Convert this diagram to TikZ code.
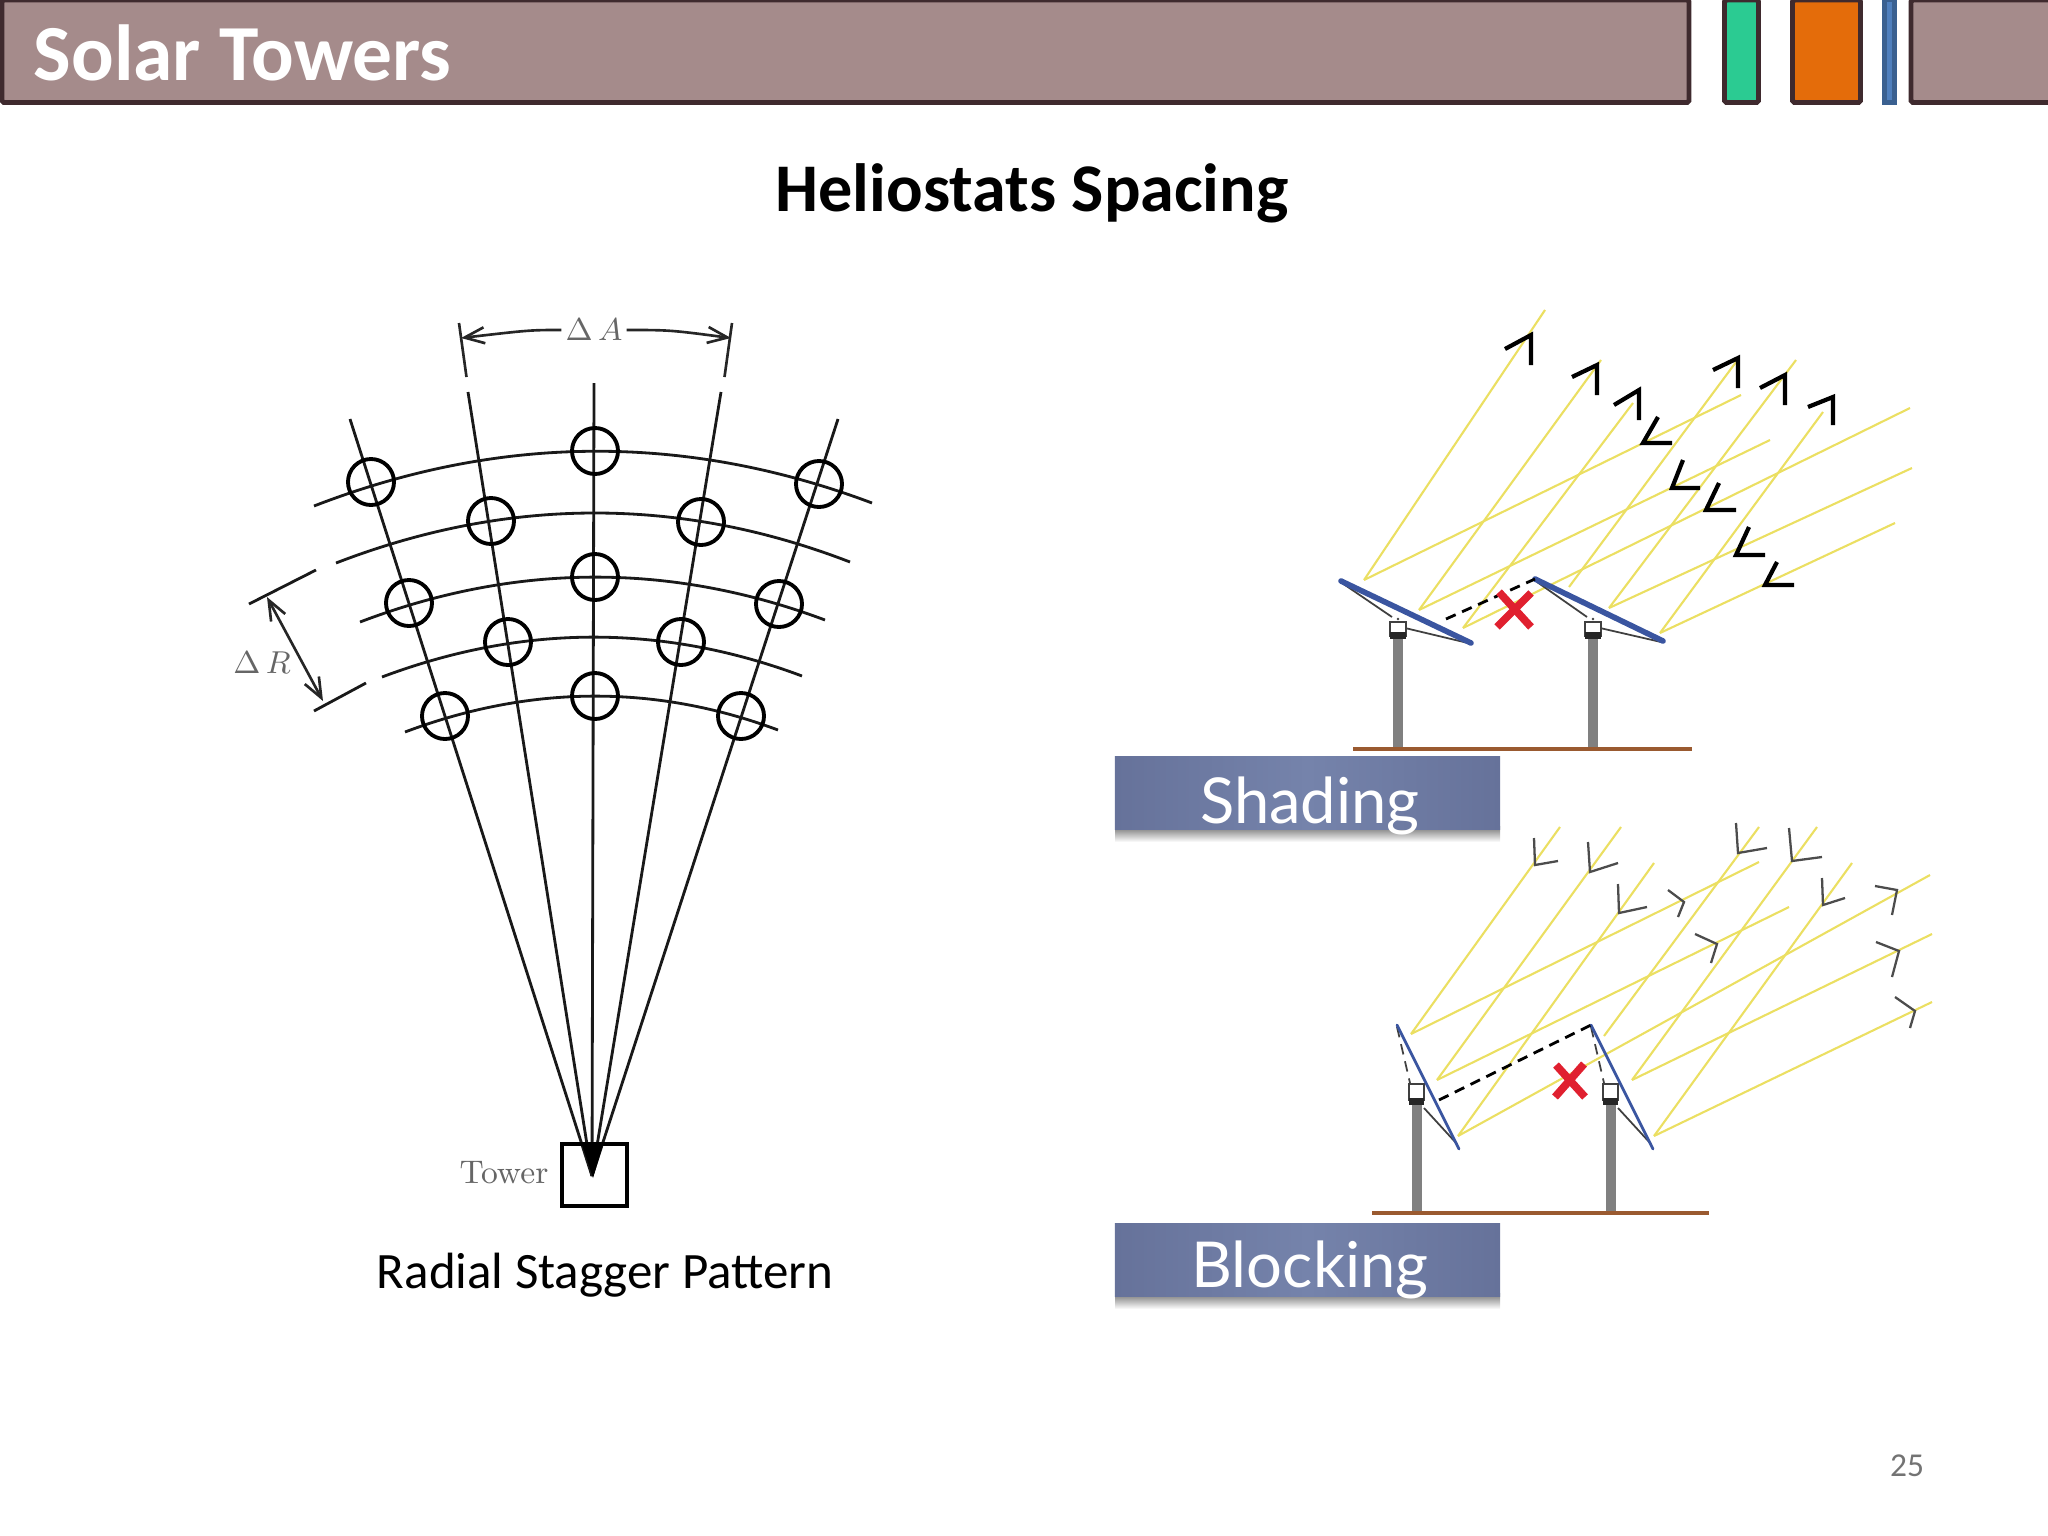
\documentclass[tikz,border=0pt]{standalone}
\usepackage{fontspec}
\newfontfamily\slidefont{Carlito}
\newfontfamily\boxfont{Lato}
\usetikzlibrary{arrows.meta}
\definecolor{barfill}{HTML}{A58B8B}
\definecolor{barline}{HTML}{3F2A2E}
\definecolor{tabgreen}{HTML}{2BCB92}
\definecolor{taborange}{HTML}{E46C0A}
\definecolor{tabblue}{HTML}{4F7FBD}
\definecolor{tabblueline}{HTML}{3A6090}
\definecolor{raycol}{HTML}{EBDF62}
\definecolor{mirrorcol}{HTML}{3A55A0}
\definecolor{groundcol}{HTML}{9A5A30}
\definecolor{crosscol}{HTML}{E0202F}
\definecolor{boxedge}{HTML}{66729A}
\definecolor{boxmid}{HTML}{7583AB}
\tikzset{
  bar/.style={draw=barline, line width=1.4pt, rounded corners=0.5pt},
  helio/.style={circle, draw, line width=1.1pt, minimum size=0.46cm, inner sep=0pt},
  radial/.style={line width=0.8pt, black!90},
  ring/.style={line width=0.8pt, black!90},
  dim/.style={line width=0.75pt, black!85},
  ray/.style={raycol, line width=0.6pt},
  barb/.style={black, line width=1.2pt},
  thinbarb/.style={black!70, line width=0.65pt},
  mirror/.style={mirrorcol, line width=1.6pt, line cap=round},
  thinmirror/.style={mirrorcol, line width=0.8pt, line cap=round},
  strut/.style={black!75, line width=0.5pt},
  post/.style={black!50, line width=2.6pt},
  ground/.style={groundcol, line width=1.1pt},
  hinder/.style={black, densely dashed, line width=0.8pt},
  cross/.style={crosscol, line width=2.2pt},
  labelbox/.style={left color=boxedge, right color=boxedge, middle color=boxmid,
    minimum width=3.85cm, minimum height=0.72cm, inner sep=0pt},
  boxtext/.style={inner sep=0pt, text=white, font=\boxfont\fontsize{18}{20}\selectfont},
  scan/.style={text=black!60}
}
\begin{document}
\begin{tikzpicture}[x=0.01cm, y=-0.01cm]
\useasboundingbox (0,0) rectangle (2048,1536);

% header bar
\draw[bar, fill=barfill] (2,0) rectangle (1689,102.5);
\draw[bar, fill=barfill] (1911,0) rectangle (2060,102.5);
\draw[bar, fill=tabgreen] (1724.5,0) rectangle (1758.5,102.5);
\draw[bar, fill=taborange] (1792.5,0) rectangle (1860.5,102.5);
\draw[draw=tabblueline, line width=1.4pt, fill=tabblue] (1884.5,0) rectangle (1894.5,102.5);
\node[anchor=west, inner sep=0pt, text=white, font=\slidefont\bfseries\fontsize{22.6}{26}\selectfont] (title) at (33,53) {Solar Towers};
\node[font=\slidefont\bfseries\fontsize{19.4}{22}\selectfont] (subtitle) at (1032,193) {Heliostats Spacing};
\node[font=\slidefont\fontsize{14.5}{17}\selectfont] (caption) at (605,1275) {Radial Stagger Pattern};
\node[text=black!55, font=\slidefont\fontsize{9.5}{11}\selectfont] (pagenum) at (1907,1466) {25};

% radial field
\coordinate (apex) at (592,1176);
\coordinate (top1) at (350,419);
\coordinate (top2) at (468,392);
\coordinate (top3) at (594,383);
\coordinate (top4) at (721,392);
\coordinate (top5) at (838,419);
\draw[radial] (apex) -- (top1);
\draw[radial] (apex) -- (top2);
\draw[radial] (apex) -- (top3);
\draw[radial] (apex) -- (top4);
\draw[radial] (apex) -- (top5);

% rings around the tower
\draw[ring] (314,506) .. controls (500,434) and (686,433) .. (872,503);
\draw[ring] (336,563) .. controls (507,497) and (679,496) .. (850,562);
\draw[ring] (360,622) .. controls (515,563) and (670,562) .. (825,620);
\draw[ring] (382,677) .. controls (523,624) and (663,624) .. (802,676);
\draw[ring] (405,732) .. controls (530,685) and (655,684) .. (778,730);

% heliostats, same row order as the rings
\node[helio] (h11) at (371,482) {};
\node[helio] (h12) at (595,451) {};
\node[helio] (h13) at (819,484) {};
\node[helio] (h21) at (491,521) {};
\node[helio] (h22) at (701,522) {};
\node[helio] (h31) at (409,603) {};
\node[helio] (h32) at (595,577) {};
\node[helio] (h33) at (779,604) {};
\node[helio] (h41) at (508,642) {};
\node[helio] (h42) at (681,642) {};
\node[helio] (h51) at (445,716) {};
\node[helio] (h52) at (595,696) {};
\node[helio] (h53) at (741,716) {};

% tower
\node[draw, line width=1.1pt, minimum width=0.65cm, minimum height=0.62cm, inner sep=0pt] (tower) at (594.5,1175) {};
\fill[black] (582,1145) -- (603,1145) -- (593,1178) -- cycle;
\node[scan, font=\fontsize{9.3}{11}\selectfont] (towerlabel) at (504,1173) {Tower};

% dimension A
\node[scan, inner sep=1pt] (dA) at (594,330) {\fontsize{9}{11}\selectfont$\Delta\,A$};
\coordinate (tickAl) at (459,323);
\coordinate (tickAr) at (732,323);
\coordinate (footAl) at (466.5,377);
\coordinate (footAr) at (724.5,377);
\coordinate (tipAl) at (461,338);
\coordinate (tipAr) at (731,338);
\draw[dim] (tickAl) -- (footAl);
\draw[dim] (tickAr) -- (footAr);
\draw[dim, -{Straight Barb[length=2mm,width=1.6mm]}] (dA.west) .. controls (530,330) .. (tipAl);
\draw[dim, -{Straight Barb[length=2mm,width=1.6mm]}] (dA.east) .. controls (670,330) .. (tipAr);

% dimension R
\node[scan, inner sep=0pt] (dR) at (262,663) {\fontsize{9}{11}\selectfont$\Delta\,R$};
\coordinate (tipRt) at (267,597);
\coordinate (tipRb) at (323,701);
\draw[dim, {Straight Barb[length=2mm,width=1.6mm]}-{Straight Barb[length=2mm,width=1.6mm]}] (tipRt) -- (tipRb);
\draw[ring] (249,604) -- (316,570);
\draw[ring] (314,711) -- (366,683);

% shading panel
\draw[ray] (1364,580) -- (1545,310);
\draw[ray] (1419,610) -- (1601,360);
\draw[ray] (1463,628) -- (1633,403);
\draw[ray] (1569,587) -- (1739,358);
\draw[ray] (1609,608) -- (1796,360);
\draw[ray] (1660,633) -- (1823,412);
\draw[ray] (1364,580) -- (1741,395);
\draw[ray] (1419,610) -- (1770,440);
\draw[ray] (1463,628) -- (1910,408);
\draw[ray] (1609,608) -- (1912,468);
\draw[ray] (1660,633) -- (1895,523);
\draw[barb] (1505,349) -- (1531,335) -- (1531,365);
\draw[barb] (1572,377) -- (1597,365) -- (1597,395);
\draw[barb] (1614,405) -- (1639,390) -- (1639,420);
\draw[barb] (1713,370) -- (1738,358) -- (1738,388);
\draw[barb] (1760,388) -- (1785,375) -- (1785,405);
\draw[barb] (1808,407) -- (1833,397) -- (1833,425);
\draw[barb] (1658,417) -- (1643,443) -- (1672,443);
\draw[barb] (1683,460) -- (1672,488) -- (1700,488);
\draw[barb] (1719,483) -- (1706,510) -- (1736,510);
\draw[barb] (1749,527) -- (1736,555) -- (1765,555);
\draw[barb] (1777,562) -- (1765,585) -- (1794,585);
\draw[post] (1398,636) -- (1398,749);
\draw[post] (1593,636) -- (1593,749);
\draw[strut] (1342,583) -- (1392,617);
\draw[strut] (1405,628) -- (1468,643);
\draw[strut] (1537,582) -- (1587,617);
\draw[strut] (1600,628) -- (1661,642);
\draw[strut, fill=white] (1390,622) rectangle (1406,636);
\draw[strut, fill=white] (1585,622) rectangle (1601,636);
\draw[strut, fill=white] (1398,619) circle (0.06);
\draw[strut, fill=white] (1593,619) circle (0.06);
\fill[black!85] (1390,632) rectangle (1406,639);
\fill[black!85] (1585,632) rectangle (1601,639);
\draw[mirror] (1341,581) -- (1471,643);
\draw[mirror] (1535,579) -- (1663,641);
\draw[hinder] (1446,619) -- (1535,579);
\draw[cross] (1499,592) -- (1531,627);
\draw[cross] (1531,593) -- (1497,627);
\draw[ground] (1353,749) -- (1692,749);
\shade[top color=black!55, bottom color=white] (1115,826) rectangle (1500,842);
\node[labelbox] (shadingbox) at (1307.5,793) {};
\node[boxtext] (shadingtext) at (1310,806) {Shading};

% blocking panel
\draw[ray] (1411,1034) -- (1560,827);
\draw[ray] (1437,1080) -- (1621,827);
\draw[ray] (1458,1136) -- (1654,863);
\draw[ray] (1604,1036) -- (1759,827);
\draw[ray] (1632,1080) -- (1817,827);
\draw[ray] (1654,1136) -- (1852,863);
\draw[ray] (1411,1034) -- (1759,862);
\draw[ray] (1437,1080) -- (1789,907);
\draw[ray] (1458,1136) -- (1930,875);
\draw[ray] (1632,1080) -- (1932,934);
\draw[ray] (1654,1136) -- (1932,1002);
\draw[thinbarb] (1534,838) -- (1535,865) -- (1558,861);
\draw[thinbarb] (1588,842) -- (1590,872) -- (1618,863);
\draw[thinbarb] (1618,884) -- (1619,913) -- (1647,907);
\draw[thinbarb] (1736,823) -- (1738,853) -- (1767,848);
\draw[thinbarb] (1789,828) -- (1792,861) -- (1822,857);
\draw[thinbarb] (1822,878) -- (1823,905) -- (1845,898);
\draw[thinbarb] (1668,890) -- (1684,902) -- (1678,917);
\draw[thinbarb] (1695,934) -- (1717,944) -- (1711,963);
\draw[thinbarb] (1875,886) -- (1897,890) -- (1892,915);
\draw[thinbarb] (1876,942) -- (1899,951) -- (1892,977);
\draw[thinbarb] (1895,997) -- (1915,1011) -- (1910,1028);
\draw[post] (1417,1105) -- (1417,1213);
\draw[post] (1611,1105) -- (1611,1213);
\draw[strut, densely dashed] (1397,1027) -- (1410,1083);
\draw[strut] (1424,1108) -- (1457,1144);
\draw[strut, densely dashed] (1591,1027) -- (1604,1083);
\draw[strut] (1618,1108) -- (1651,1144);
\draw[strut, fill=white] (1409,1084) rectangle (1424,1100);
\draw[strut, fill=white] (1603,1084) rectangle (1618,1100);
\fill[black!85] (1409,1098) rectangle (1424,1105);
\fill[black!85] (1603,1098) rectangle (1618,1105);
\draw[thinmirror] (1397,1025) -- (1459,1149);
\draw[thinmirror] (1591,1025) -- (1653,1149);
\draw[hinder] (1439,1100) -- (1591,1025);
\draw[cross] (1556,1065) -- (1585,1097);
\draw[cross] (1584,1064) -- (1555,1097);
\draw[ground] (1372,1213) -- (1709,1213);
\shade[top color=black!55, bottom color=white] (1115,1293) rectangle (1500,1309);
\node[labelbox] (blockingbox) at (1307.5,1260) {};
\node[boxtext] (blockingtext) at (1310,1270) {Blocking};

\end{tikzpicture}
\end{document}
